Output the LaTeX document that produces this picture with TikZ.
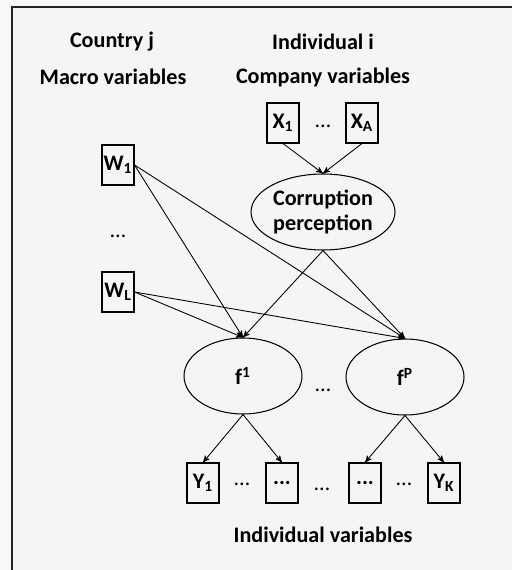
\documentclass[tikz,border=0pt]{standalone}
\usepackage{fontspec}
\setmainfont{Carlito}
\usetikzlibrary{arrows,shapes.geometric}
\newcommand{\dgfont}{\fontsize{12.6}{14.2}\selectfont\bfseries}
\definecolor{paper}{HTML}{F5F5F5}
\definecolor{edge}{HTML}{F9F9F9}

\begin{document}
\begin{tikzpicture}[x=0.02cm,y=-0.02cm,>=stealth',
var/.style={draw, line width=0.6pt, minimum width=0.64cm, minimum height=0.8cm, inner sep=0pt, font=\dgfont},
lat/.style={draw, ellipse, line width=0.6pt, inner sep=0pt, align=center, font=\dgfont},
lab/.style={font=\dgfont},
dots/.style={font=\fontsize{12.6}{14.2}\selectfont},
link/.style={->, line width=0.5pt}]
% page and frame
\useasboundingbox (0,0) rectangle (512,570);
\fill[edge] (0,0) rectangle (512,570);
\fill[paper] (12,7) rectangle (512,570);
\draw[line width=1.2pt, black!85] (12,570) -- (12,7) -- (512,7);

% headings
\node[lab] (cty) at (112,42) {Country j};
\node[lab] (ind) at (323,42) {Individual i};
\node[lab] (mac) at (113,77) {Macro variables};
\node[lab] (com) at (323,77) {Company variables};
\node[lab] (iv) at (323,535) {Individual variables};

% observed variables
\node[var] (x1) at (283,123) {X\textsubscript{1}};
\node[var] (xa) at (362,123) {X\textsubscript{A}};
\node[dots] (xd) at (323,126) {\dots};
\node[var] (w1) at (118,165) {W\textsubscript{1}};
\node[dots] (wd) at (118,236) {\dots};
\node[var] (wl) at (118,292) {W\textsubscript{L}};

% latent variables
\node[lat, minimum width=2.88cm, minimum height=1.52cm] (cp) at (323,212) {Corruption\\perception};
\node[lat, minimum width=2.36cm, minimum height=1.52cm] (f1) at (243,376) {f\textsuperscript{1}};
\node[lat, minimum width=2.36cm, minimum height=1.52cm] (fp) at (405,377) {f\textsuperscript{P}};
\node[dots] (fd) at (323,390) {\dots};

% individual variables
\node[var] (y1) at (203,483) {Y\textsubscript{1}};
\node[var] (y2) at (282,483) {...};
\node[var] (y3) at (365,483) {...};
\node[var] (yk) at (444,483) {Y\textsubscript{K}};
\node[dots] (yd1) at (242,484) {\dots};
\node[dots] (yd2) at (322,489) {\dots};
\node[dots] (yd3) at (404,484) {\dots};

% paths
\draw[link] (x1.south) -- (cp.north);
\draw[link] (xa.south) -- (cp.north);
\foreach \s in {w1.east,wl.east,cp.south}
{
    \draw[link] (\s) -- (f1.north);
    \draw[link] (\s) -- (fp.north);
}
\draw[link] (f1.south) -- (y1.north);
\draw[link] (f1.south) -- (y2.north);
\draw[link] (fp.south) -- (y3.north);
\draw[link] (fp.south) -- (yk.north);
\end{tikzpicture}
\end{document}
